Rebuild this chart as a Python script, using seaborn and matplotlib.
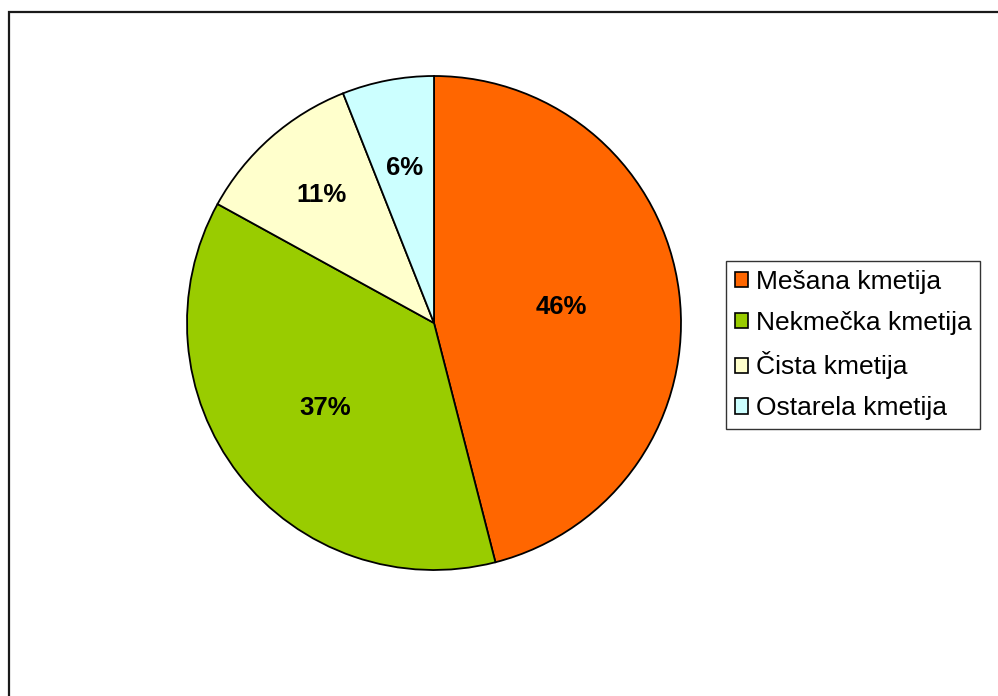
import matplotlib
matplotlib.use("Agg")
import matplotlib.pyplot as plt
import seaborn as sns
import numpy as np
from matplotlib.patches import Rectangle

categories = ["Mešana kmetija", "Nekmečka kmetija", "Čista kmetija", "Ostarela kmetija"]
values = [46, 37, 11, 6]
colors = ["#FF6600", "#99CC00", "#FFFFCC", "#CCFFFF"]
label_dist = [0.52, 0.56, 0.69, 0.64]

sns.set_theme(style="white")
plt.rcParams["font.family"] = ["Liberation Sans", "DejaVu Sans"]
plt.rcParams["text.color"] = "black"

W, H = 998, 696
fig = plt.figure(figsize=(W / 100, H / 100), dpi=100)
fig.patch.set_facecolor("white")

cx, cy, r = 434, 323, 247
ax = fig.add_axes([(cx - r) / W, (H - cy - r) / H, 2 * r / W, 2 * r / H])
wedges, _ = ax.pie(values, colors=colors, startangle=90, counterclock=False,
                   radius=1.0, wedgeprops=dict(edgecolor="black", linewidth=1.3))
ax.set_xlim(-1, 1)
ax.set_ylim(-1, 1)
ax.set_aspect("equal")
ax.axis("off")

total = sum(values)
for w, v, d in zip(wedges, values, label_dist):
    ang = np.deg2rad((w.theta1 + w.theta2) / 2)
    ax.text(d * np.cos(ang), d * np.sin(ang), f"{round(100 * v / total)}%",
            ha="center", va="center", fontsize=18.5, fontweight="bold", color="black")

leg = fig.legend(wedges, categories, loc="upper left",
                 bbox_to_anchor=(726 / W, 1 - 261 / H), borderaxespad=0,
                 fontsize=19, frameon=True, fancybox=False, shadow=False,
                 handlelength=0.5, handleheight=0.5, handletextpad=0.3,
                 labelspacing=0.64, borderpad=0.33)
leg.get_frame().set_edgecolor("black")
leg.get_frame().set_linewidth(1.0)
for t in leg.get_texts():
    t.set_color("black")
for h in leg.legend_handles:
    h.set_edgecolor("black")
    h.set_linewidth(1.2)

# outer chart frame (top and left visible)
fig.patches.append(Rectangle((8.5 / W, -0.1), 1.2, 1 - 11.5 / H + 0.1,
                             transform=fig.transFigure, fill=False,
                             edgecolor="#1a1a1a", linewidth=1.6))

fig.savefig("out.png", dpi=100)
